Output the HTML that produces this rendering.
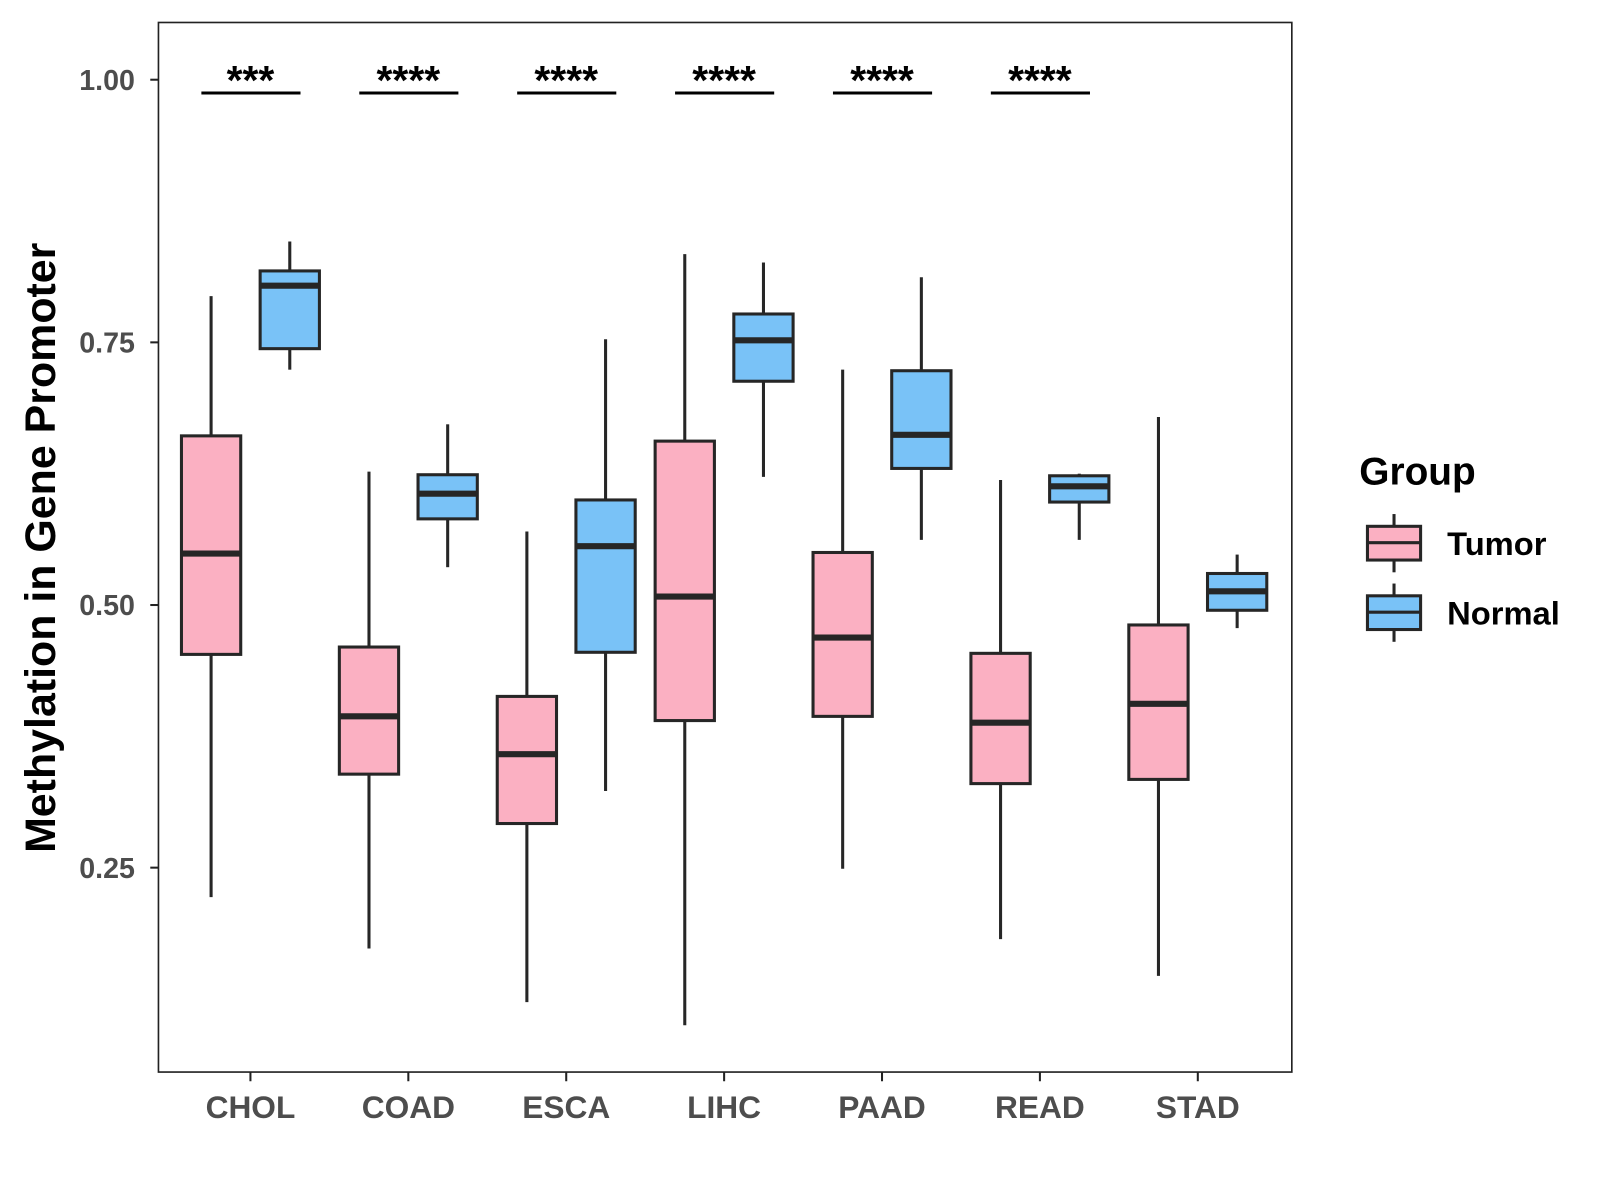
<!DOCTYPE html>
<html><head><meta charset="utf-8"><style>html,body{margin:0;padding:0;background:#fff}svg{display:block}</style></head>
<body>
<svg id="chart" width="1600" height="1200" viewBox="0 0 1565.5 1174.2" xmlns="http://www.w3.org/2000/svg" font-family="'Liberation Sans', sans-serif">
<rect width="1565.5" height="1174.2" fill="#fff"/>
<g id="plot"></g>
<rect x="155" y="22" width="1109" height="1027" fill="none" stroke="#222" stroke-width="1.6"/>
<text transform="translate(54,536) rotate(-90)" text-anchor="middle" font-size="42" font-weight="bold" fill="#000">Methylation in Gene Promoter</text>
<g>
<text x="1330" y="474" font-size="38" font-weight="bold">Group</text>
<g>
<line x1="1364" y1="503" x2="1364" y2="560" stroke="#262626" stroke-width="3"/>
<rect x="1338" y="515" width="52" height="33" fill="#FBB0C2" stroke="#262626" stroke-width="3"/>
<line x1="1338" y1="531" x2="1390" y2="531" stroke="#262626" stroke-width="3"/>
<text x="1416" y="543" font-size="32" font-weight="bold">Tumor</text></g>
<g>
<line x1="1364" y1="571" x2="1364" y2="628" stroke="#262626" stroke-width="3"/>
<rect x="1338" y="583" width="52" height="33" fill="#79C2F7" stroke="#262626" stroke-width="3"/>
<line x1="1338" y1="599" x2="1390" y2="599" stroke="#262626" stroke-width="3"/>
<text x="1416" y="611" font-size="32" font-weight="bold">Normal</text></g>
</g>
</svg>
<script>
const categories = ["CHOL","COAD","ESCA","LIHC","PAAD","READ","STAD"];
const tumorLow  = [0.222,0.173,0.122,0.100,0.249,0.182,0.147];
const tumorQ1   = [0.453,0.339,0.292,0.390,0.394,0.330,0.334];
const tumorMed  = [0.549,0.394,0.358,0.508,0.469,0.388,0.406];
const tumorQ3   = [0.661,0.460,0.413,0.656,0.550,0.454,0.481];
const tumorHigh = [0.794,0.627,0.570,0.834,0.724,0.619,0.679];
const normalLow  = [0.724,0.536,0.323,0.622,0.562,0.562,0.478];
const normalQ1   = [0.744,0.582,0.455,0.713,0.630,0.598,0.495];
const normalMed  = [0.804,0.606,0.556,0.752,0.662,0.613,0.513];
const normalQ3   = [0.818,0.624,0.600,0.777,0.723,0.623,0.530];
const normalHigh = [0.846,0.672,0.753,0.826,0.812,0.625,0.548];
const yTicks = [0.25,0.50,0.75,1.00];
const yTickLabels = ["0.25","0.50","0.75","1.00"];
const sigLabels = ["***","****","****","****","****","****"];

const NS = "http://www.w3.org/2000/svg";
const g = document.getElementById("plot");
function y(v){ return 78 + (1 - v) * 1028; }
function x(i){ return 245 + i * 154.5; }
function mk(tag, attrs, parent){
  const e = document.createElementNS(NS, tag);
  for (const k in attrs) e.setAttribute(k, attrs[k]);
  (parent || g).appendChild(e);
  return e;
}
yTicks.forEach((v, i) => {
  const t = mk("line", {x1:147, x2:155, y1:y(v), y2:y(v), stroke:"#222", "stroke-width":2});
  
  
  const l = mk("text", {x:132, y:y(v)+10, "text-anchor":"end", "font-size":28, "font-weight":"bold", fill:"#4d4d4d"});
  
  
  l.textContent = yTickLabels[i];
});
categories.forEach((c, i) => {
  const t = mk("line", {x1:x(i), x2:x(i), y1:1049, y2:1058, stroke:"#222", "stroke-width":2});
  
  
  const l = mk("text", {x:x(i), y:1094, "text-anchor":"middle", "font-size":31, "font-weight":"bold", fill:"#4d4d4d"});
  
  
  l.textContent = c;
});
function box(cx, lo, q1, md, q3, hi, fill, name){
  const grp = mk("g", {});
  
  
  mk("line", {x1:cx, x2:cx, y1:y(hi), y2:y(q3), stroke:"#262626", "stroke-width":3}, grp);
  mk("line", {x1:cx, x2:cx, y1:y(q1), y2:y(lo), stroke:"#262626", "stroke-width":3}, grp);
  mk("rect", {x:cx-29, y:y(q3), width:58, height:y(q1)-y(q3), fill:fill, stroke:"#262626", "stroke-width":3}, grp);
  mk("line", {x1:cx-29, x2:cx+29, y1:y(md), y2:y(md), stroke:"#262626", "stroke-width":6}, grp);
}
categories.forEach((c, i) => {
  box(x(i)-38.5, tumorLow[i], tumorQ1[i], tumorMed[i], tumorQ3[i], tumorHigh[i], "#FBB0C2", "box-tumor-" + c.toLowerCase());
  box(x(i)+38.5, normalLow[i], normalQ1[i], normalMed[i], normalQ3[i], normalHigh[i], "#79C2F7", "box-normal-" + c.toLowerCase());
});
sigLabels.forEach((s, i) => {
  const b = mk("line", {x1:x(i)-48, x2:x(i)+49, y1:91, y2:91, stroke:"#000", "stroke-width":3});
  
  
  const t = mk("text", {x:x(i), y:92, "text-anchor":"middle", "font-size":40, "font-weight":"bold", fill:"#000"});
  
  
  t.textContent = s;
});
</script>
</body></html>
